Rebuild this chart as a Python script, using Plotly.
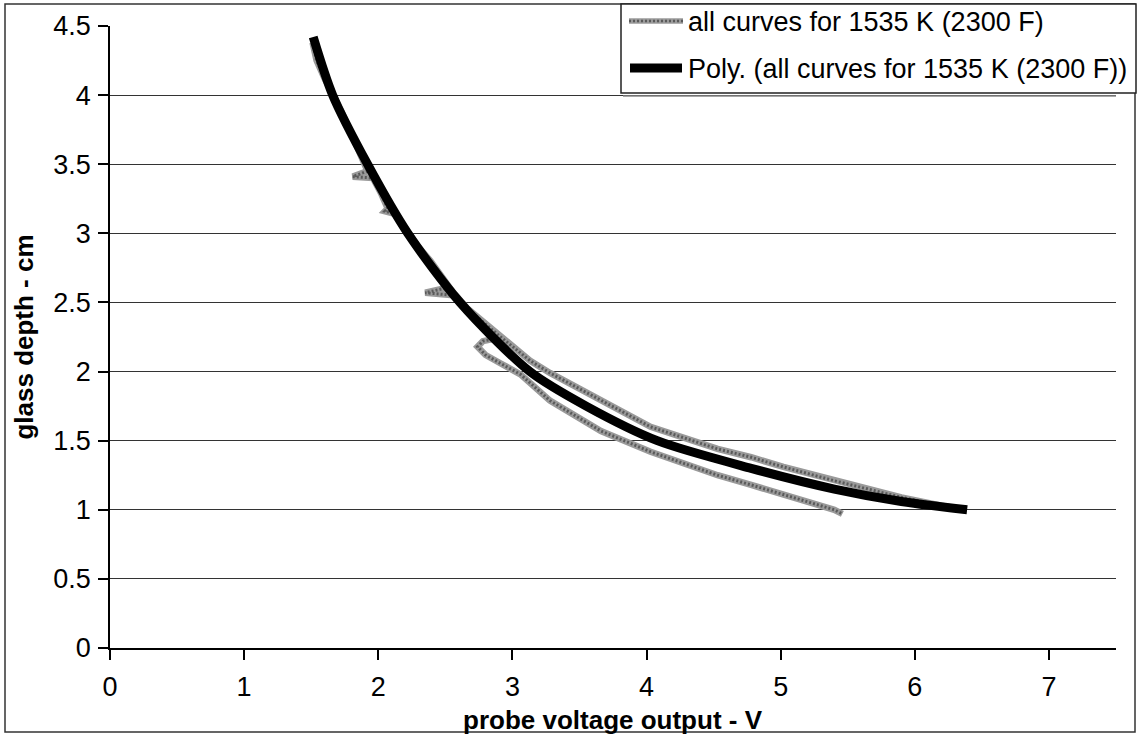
import plotly.graph_objects as go

# Measured probe response, all runs at 1535 K (2300 F); None separates the two passes
volts = [1.51, 1.54, 1.60, 1.66, 1.73, 1.80, 1.87, 1.92, 1.81, 1.96, 2.02, 2.07, 2.05, 2.13,
         2.22, 2.30, 2.39, 2.46, 2.53, 2.35, 2.58, 2.66, 2.78, 2.90, 3.13, 3.28, 3.53,
         4.03, 4.53, 4.78, 5.02, 5.40, 5.90, 6.20, 6.37,
         None,
         2.88, 2.78, 2.74, 2.80, 2.91, 3.06, 3.28, 3.66, 4.03, 4.53, 4.78, 5.02, 5.40, 5.46]
depth = [4.38, 4.25, 4.12, 4.01, 3.87, 3.72, 3.57, 3.45, 3.41, 3.40, 3.29, 3.18, 3.16, 3.14,
         3.01, 2.90, 2.80, 2.70, 2.61, 2.57, 2.55, 2.46, 2.36, 2.26, 2.08, 1.99, 1.86,
         1.60, 1.44, 1.38, 1.31, 1.21, 1.09, 1.03, 1.00,
         None,
         2.24, 2.22, 2.18, 2.12, 2.06, 1.98, 1.79, 1.57, 1.42, 1.25, 1.18, 1.11, 1.00, 0.97]

# Polynomial trend line through the measurements
fit_volts = [1.515, 1.66, 1.92, 2.22, 2.61, 3.13, 3.55, 4.08, 4.78, 5.40, 5.90, 6.39]
fit_depth = [4.42, 4.00, 3.50, 3.00, 2.50, 2.00, 1.75, 1.50, 1.30, 1.15, 1.06, 1.00]

x_ticks = [0, 1, 2, 3, 4, 5, 6, 7]
y_ticks = [0, 0.5, 1, 1.5, 2, 2.5, 3, 3.5, 4, 4.5]
y_tick_text = ["0", "0.5", "1", "1.5", "2", "2.5", "3", "3.5", "4", "4.5"]

series_name = "all curves for 1535 K (2300 F)"
fit_name = "Poly. (all curves for 1535 K (2300 F))"

FONT = "Liberation Sans, Arial, sans-serif"
GREY = "#9a9a9a"
GREY_DOTS = "#5a5a5a"

fig = go.Figure()
# stippled grey stroke: light base with a fine darker dot pattern on top
fig.add_trace(go.Scatter(x=volts, y=depth, mode="lines", name=series_name,
                         line=dict(color=GREY, width=6.5), connectgaps=False,
                         showlegend=False))
fig.add_trace(go.Scatter(x=volts, y=depth, mode="lines", name=series_name,
                         line=dict(color=GREY_DOTS, width=3, dash="2px,2px"),
                         connectgaps=False, showlegend=False, hoverinfo="skip"))
fig.add_trace(go.Scatter(x=fit_volts, y=fit_depth, mode="lines", name=fit_name,
                         line=dict(color="black", width=9, shape="spline", smoothing=0.8),
                         showlegend=False))

W, H = 1138, 736
L, R, T, B = 110, 22, 26, 88
pw, ph = W - L - R, H - T - B


def px(x):
    return (x - L) / pw


def py(y):
    return (H - B - y) / ph


shapes = [
    # outer chart frame
    dict(type="rect", xref="paper", yref="paper", x0=px(5), x1=px(1135), y0=py(732), y1=py(4),
         line=dict(color="#333", width=1.5), fillcolor="rgba(0,0,0,0)", layer="below"),
    # legend box
    dict(type="rect", xref="paper", yref="paper", x0=px(621), x1=px(1136), y0=py(93), y1=py(4),
         line=dict(color="#222", width=1.5), fillcolor="white", layer="above"),
    dict(type="line", xref="paper", yref="paper", x0=px(623), x1=px(1116), y0=py(96), y1=py(96),
         line=dict(color="#888", width=1.5)),
    # legend samples
    dict(type="line", xref="paper", yref="paper", x0=px(629), x1=px(683), y0=py(21), y1=py(21),
         line=dict(color=GREY, width=5.5)),
    dict(type="line", xref="paper", yref="paper", x0=px(629), x1=px(683), y0=py(21), y1=py(21),
         line=dict(color=GREY_DOTS, width=2.5, dash="2px,2px")),
    dict(type="line", xref="paper", yref="paper", x0=px(630), x1=px(682), y0=py(68), y1=py(68),
         line=dict(color="black", width=9)),
]

annotations = [
    dict(text=series_name, xref="paper", yref="paper", x=px(686), y=py(22),
         xanchor="left", yanchor="middle", showarrow=False,
         font=dict(family=FONT, size=27, color="black")),
    dict(text=fit_name, xref="paper", yref="paper", x=px(686), y=py(69),
         xanchor="left", yanchor="middle", showarrow=False,
         font=dict(family=FONT, size=27, color="black")),
    dict(text="<b>probe voltage output - V</b>", xref="paper", yref="paper", x=0.5, y=py(720),
         xanchor="center", yanchor="middle", showarrow=False,
         font=dict(family=FONT, size=26, color="black")),
]

fig.update_layout(
    width=W, height=H,
    margin=dict(l=L, r=R, t=T, b=B, pad=0),
    paper_bgcolor="white", plot_bgcolor="white",
    font=dict(family=FONT, size=27, color="black"),
    shapes=shapes, annotations=annotations,
    showlegend=False,
)
fig.update_xaxes(range=[0, 7.5], tickvals=x_ticks, showgrid=False, zeroline=False,
                 showline=True, linecolor="black", linewidth=1.5,
                 ticks="outside", ticklen=10, tickcolor="black", tickwidth=1.5,
                 ticklabelstandoff=4, tickfont=dict(size=27))
fig.update_yaxes(range=[0, 4.5], tickvals=y_ticks, ticktext=y_tick_text, showgrid=True,
                 gridcolor="#333", gridwidth=1.2, zeroline=False,
                 showline=True, linecolor="black", linewidth=1.5,
                 ticks="outside", ticklen=10, tickcolor="black", tickwidth=1.5,
                 ticklabelstandoff=2, tickfont=dict(size=27),
                 title=dict(text="<b>glass depth - cm</b>", standoff=12,
                            font=dict(family=FONT, size=26)))

fig.write_html("out.html")
